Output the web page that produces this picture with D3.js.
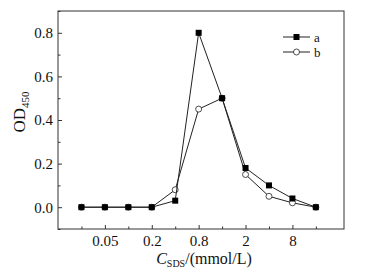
<!DOCTYPE html>
<html>
<head>
<meta charset="utf-8">
<script src="https://cdn.jsdelivr.net/npm/d3@7"></script>
<style>
  body { margin: 0; background: #fff; }
  svg text { font-family: 'Liberation Serif', 'DejaVu Serif', serif !important; }
</style>
</head>
<body>
<div id="chart"></div>
<script>
(function() {
  // concentration categories (mmol/L), evenly spaced on the axis
  const concLabels = ["0.025", "0.05", "0.1", "0.2", "0.4", "0.8", "1", "2", "4", "8", "16"];
  const tickLabels = {1: "0.05", 3: "0.2", 5: "0.8", 7: "2", 9: "8"};
  const seriesA = [0, 0, 0, 0, 0.03, 0.80, 0.50, 0.18, 0.10, 0.04, 0];
  const seriesB = [0, 0, 0, 0, 0.08, 0.45, 0.50, 0.15, 0.05, 0.02, 0];
  const yTicks = [0, 0.2, 0.4, 0.6, 0.8];

  const width = 377, height = 274;
  const margin = { top: 11, right: 33, bottom: 45, left: 58 };
  const innerWidth = width - margin.left - margin.right;
  const innerHeight = height - margin.top - margin.bottom;

  const svg = d3.select("#chart")
    .append("svg")
    .attr("width", width)
    .attr("height", height);

  const g = svg.append("g")
    .attr("transform", `translate(${margin.left},${margin.top})`);

  const x = d3.scaleLinear()
    .domain([-1, 11.2])
    .range([0, innerWidth]);

  const y = d3.scaleLinear()
    .domain([-0.1, 0.9])
    .range([innerHeight, 0]);

  // frame
  g.append("rect")
    .attr("width", innerWidth)
    .attr("height", innerHeight)
    .attr("fill", "none")
    .attr("stroke", "#333")
    .attr("stroke-width", 1);

  // x axis, ticks pointing inward
  const xAxis = g.append("g")
    .attr("transform", `translate(0,${innerHeight})`)
    .call(d3.axisBottom(x)
      .tickValues(d3.range(concLabels.length))
      .tickSize(-4)
      .tickPadding(6)
      .tickFormat(i => tickLabels[i] || ""));
  xAxis.select(".domain").remove();
  xAxis.selectAll(".tick line")
    .attr("y2", d => tickLabels[d] ? -4 : -2.5)
    .attr("stroke", "#333");
  xAxis.selectAll("text")
    .attr("font-size", 15)
    .attr("fill", "#111");

  // y axis
  const yAxis = g.append("g")
    .call(d3.axisLeft(y)
      .tickValues(d3.range(-0.1, 0.95, 0.1).map(v => +v.toFixed(1)))
      .tickSize(-4)
      .tickPadding(5)
      .tickFormat(v => yTicks.includes(v) ? d3.format(".1f")(v) : ""));
  yAxis.select(".domain").remove();
  yAxis.selectAll(".tick line")
    .attr("x2", d => yTicks.includes(d) ? 4 : 2.5)
    .attr("stroke", "#333");
  yAxis.selectAll("text")
    .attr("font-size", 15)
    .attr("fill", "#111");

  // axis labels
  const yLab = g.append("text")
    .attr("transform", `translate(-33,${innerHeight / 2 - 8}) rotate(-90)`)
    .attr("text-anchor", "middle")
    .attr("font-size", 17)
    .attr("fill", "#111");
  yLab.append("tspan").text("OD");
  yLab.append("tspan").attr("font-size", 11).attr("dy", 4).text("450");

  const xLab = g.append("text")
    .attr("x", innerWidth / 2 + 3)
    .attr("y", innerHeight + 35)
    .attr("text-anchor", "middle")
    .attr("font-size", 16)
    .attr("fill", "#111");
  xLab.append("tspan").attr("font-style", "italic").text("C");
  xLab.append("tspan").attr("font-size", 10).attr("dy", 3).text("SDS");
  xLab.append("tspan").attr("dy", -3).text("/(mmol/L)");

  const line = d3.line()
    .x((d, i) => x(i))
    .y(d => y(d));

  // series b (open circles) drawn first, a on top
  g.append("path")
    .datum(seriesB)
    .attr("fill", "none")
    .attr("stroke", "#222")
    .attr("stroke-width", 1)
    .attr("d", line);
  g.selectAll("circle.pt-b")
    .data(seriesB)
    .enter().append("circle")
    .attr("class", "pt-b")
    .attr("cx", (d, i) => x(i))
    .attr("cy", d => y(d))
    .attr("r", 3)
    .attr("fill", "#fff")
    .attr("stroke", "#222")
    .attr("stroke-width", 0.8);

  g.append("path")
    .datum(seriesA)
    .attr("fill", "none")
    .attr("stroke", "#222")
    .attr("stroke-width", 1)
    .attr("d", line);
  g.selectAll("rect.pt-a")
    .data(seriesA)
    .enter().append("rect")
    .attr("class", "pt-a")
    .attr("x", (d, i) => x(i) - 3)
    .attr("y", d => y(d) - 3)
    .attr("width", 6)
    .attr("height", 6)
    .attr("fill", "#000");

  // legend
  const legend = g.append("g")
    .attr("transform", `translate(${283 - margin.left},${37 - margin.top})`);
  const items = [{ name: "a", shape: "square" }, { name: "b", shape: "circle" }];
  items.forEach((it, i) => {
    const row = legend.append("g").attr("transform", `translate(0,${i * 15})`);
    row.append("line")
      .attr("x1", 0).attr("x2", 27)
      .attr("stroke", "#222").attr("stroke-width", 1);
    if (it.shape === "square") {
      row.append("rect")
        .attr("x", 10.5).attr("y", -3)
        .attr("width", 6).attr("height", 6)
        .attr("fill", "#000");
    } else {
      row.append("circle")
        .attr("cx", 13.5).attr("r", 3)
        .attr("fill", "#fff").attr("stroke", "#222").attr("stroke-width", 0.8);
    }
    row.append("text")
      .attr("x", 31).attr("y", 4.5)
      .attr("font-size", 13)
      .attr("fill", "#111")
      .text(it.name);
  });
})();
</script>
</body>
</html>
